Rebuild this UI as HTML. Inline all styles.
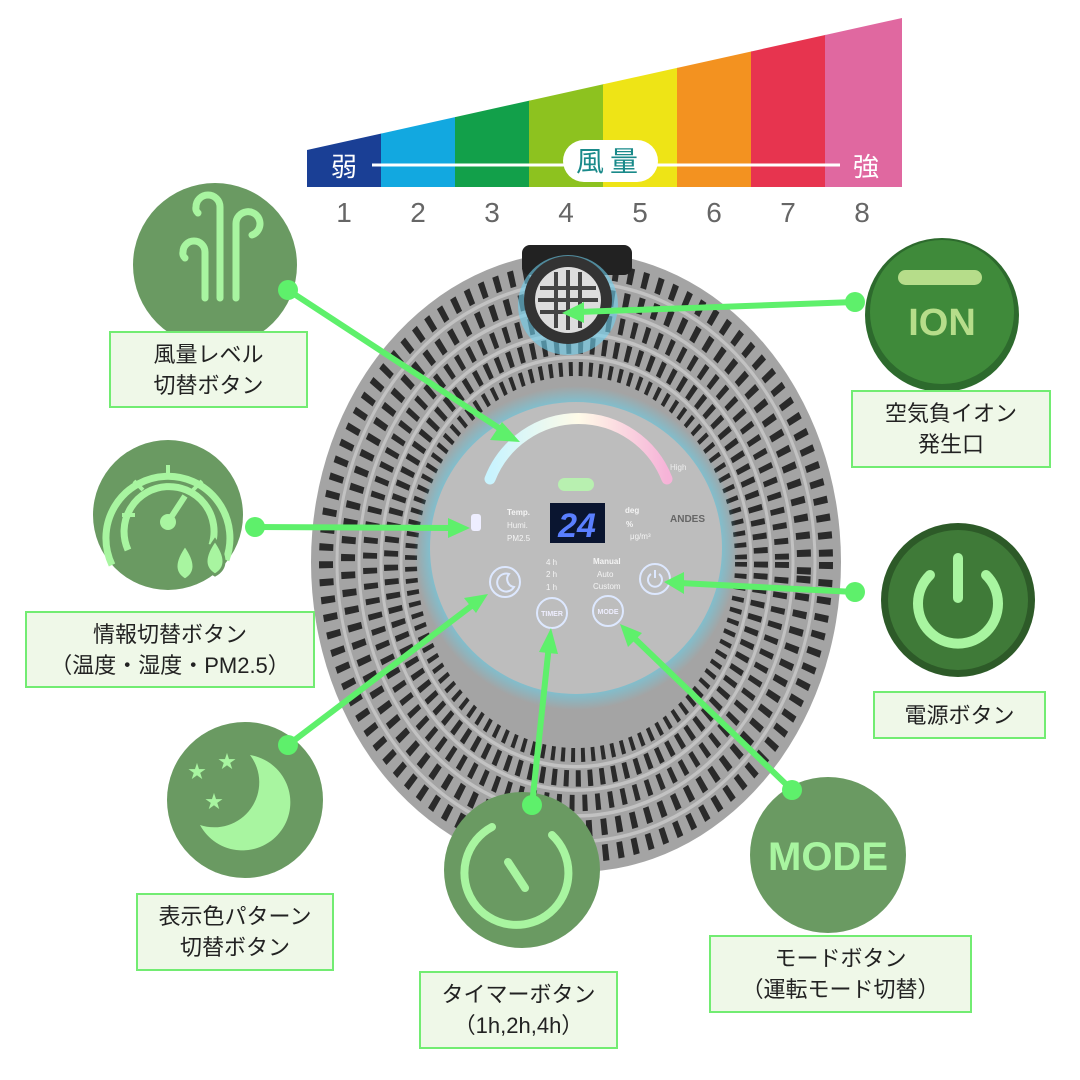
<!DOCTYPE html>
<html><head><meta charset="utf-8"><style>
html,body{margin:0;padding:0;background:#fff;}
body{width:1080px;height:1080px;position:relative;overflow:hidden;font-family:"Liberation Sans","Noto Sans CJK JP",sans-serif;}
.box{position:absolute;background:#eff8e8;border:2px solid #72ec72;color:#222;font-size:22px;line-height:31px;text-align:center;box-sizing:border-box;display:flex;flex-direction:column;justify-content:center;}
</style></head><body>
<svg width="1080" height="1080" viewBox="0 0 1080 1080" style="position:absolute;left:0;top:0">
<defs>
<radialGradient id="glow" cx="0.5" cy="0.5" r="0.5">
<stop offset="0.8" stop-color="#5fd8f5" stop-opacity="1"/>
<stop offset="1" stop-color="#5fd8f5" stop-opacity="0"/>
</radialGradient>
<linearGradient id="arcg" x1="0" x2="1"><stop offset="0" stop-color="#c8f4ff"/><stop offset="0.5" stop-color="#fffbe8"/><stop offset="1" stop-color="#f6b3d8"/></linearGradient>
<clipPath id="bar"><polygon points="307,150 902,18 902,187 307,187"/></clipPath>
</defs>
<g clip-path="url(#bar)">
<rect x="307" y="0" width="75" height="190" fill="#1a3f95"/>
<rect x="381" y="0" width="75" height="190" fill="#12a8e0"/>
<rect x="455" y="0" width="75" height="190" fill="#12a04a"/>
<rect x="529" y="0" width="75" height="190" fill="#8dc21f"/>
<rect x="603" y="0" width="75" height="190" fill="#eee416"/>
<rect x="677" y="0" width="75" height="190" fill="#f39220"/>
<rect x="751" y="0" width="75" height="190" fill="#e7344f"/>
<rect x="825" y="0" width="80" height="190" fill="#e068a0"/>
</g>
<line x1="372" y1="165" x2="840" y2="165" stroke="#fff" stroke-width="3"/>
<rect x="563" y="140" width="95" height="42" rx="21" fill="#fff"/>
<text x="610" y="171" font-size="28" fill="#1a8a8a" text-anchor="middle" letter-spacing="6" font-family="Liberation Sans,Noto Sans CJK JP,sans-serif">風量</text>
<text x="344" y="176" font-size="26" fill="#fff" text-anchor="middle" font-family="Liberation Sans,Noto Sans CJK JP,sans-serif">弱</text>
<text x="866" y="176" font-size="26" fill="#fff" text-anchor="middle" font-family="Liberation Sans,Noto Sans CJK JP,sans-serif">強</text>
<g font-size="28" fill="#666" text-anchor="middle">
<text x="344" y="222">1</text><text x="418" y="222">2</text><text x="492" y="222">3</text><text x="566" y="222">4</text><text x="640" y="222">5</text><text x="714" y="222">6</text><text x="788" y="222">7</text><text x="862" y="222">8</text>
</g>
<g transform="translate(576,562) scale(1,1.17)">
<circle r="265" fill="#a4a4a4"/>
<g fill="none" stroke="#2a2a2a">
<circle r="250" stroke-width="14" stroke-dasharray="6 9"/>
<circle r="228" stroke-width="14" stroke-dasharray="6 9" transform="rotate(3)"/>
<circle r="206" stroke-width="14" stroke-dasharray="5 8"/>
<circle r="185" stroke-width="14" stroke-dasharray="5 7" transform="rotate(3)"/>
<circle r="165" stroke-width="12" stroke-dasharray="4 6"/>
</g>
<g fill="none" stroke="#e0e0e0" stroke-opacity="0.5">
<circle r="239" stroke-width="3"/><circle r="217" stroke-width="3"/><circle r="195" stroke-width="3"/><circle r="175" stroke-width="3"/>
</g>
</g>
<circle cx="576" cy="548" r="162" fill="url(#glow)"/>
<circle cx="576" cy="548" r="146" fill="#bdbdbd"/>
<rect x="522" y="245" width="110" height="30" rx="8" fill="#222"/>
<circle cx="568" cy="305" r="50" fill="#6fd0ee" opacity="0.6"/>
<circle cx="568" cy="300" r="44" fill="#333"/>
<circle cx="568" cy="300" r="33" fill="#ddd"/>
<g stroke="#444" stroke-width="4">
<line x1="540" y1="288" x2="596" y2="288"/><line x1="538" y1="300" x2="598" y2="300"/><line x1="540" y1="312" x2="596" y2="312"/>
<line x1="556" y1="272" x2="556" y2="328"/><line x1="568" y1="270" x2="568" y2="330"/><line x1="580" y1="272" x2="580" y2="328"/>
</g>
<path d="M490,479 A95,95 0 0 1 667,479" fill="none" stroke="url(#arcg)" stroke-width="11" stroke-linecap="round"/>
<rect x="558" y="478" width="36" height="13" rx="6.5" fill="#b8f0b0"/>
<text x="670" y="470" font-size="8" fill="#eee">High</text>
<rect x="550" y="503" width="55" height="40" fill="#0a1530"/>
<text x="577" y="537" font-size="34" fill="#5a7fff" text-anchor="middle" font-weight="bold" font-style="italic">24</text>
<rect x="471" y="514" width="10" height="17" rx="3" fill="#eef"/>
<g font-size="8" fill="#f4f4f4" font-weight="bold"><text x="507" y="515">Temp.</text><text x="507" y="528" font-weight="normal">Humi.</text><text x="507" y="541" font-weight="normal">PM2.5</text>
<text x="625" y="513">deg</text><text x="626" y="527">%</text><text x="630" y="539" font-weight="normal">μg/m³</text>
<text x="593" y="564">Manual</text><text x="597" y="577" font-weight="normal">Auto</text><text x="593" y="589" font-weight="normal">Custom</text>
<text x="546" y="565" font-weight="normal">4 h</text><text x="546" y="577" font-weight="normal">2 h</text><text x="546" y="590" font-weight="normal">1 h</text></g>
<text x="670" y="522" font-size="10" fill="#666" font-weight="bold">ANDES</text>
<g fill="none" stroke="#dde8ff" stroke-width="2">
<circle cx="505" cy="582" r="15"/><circle cx="552" cy="613" r="15"/><circle cx="608" cy="611" r="15"/><circle cx="655" cy="579" r="15"/>
<path d="M509,574 a9,9 0 1 0 5,13 a8,8 0 0 1 -5,-13z"/>
<path d="M651,574 a7,7 0 1 0 8,0 M655,570 v8"/>
</g>
<g font-size="7" fill="#eef" text-anchor="middle" font-weight="bold"><text x="552" y="616">TIMER</text><text x="608" y="614">MODE</text></g>
<!-- wind icon -->
<circle cx="215" cy="265" r="82" fill="#6a9a62"/>
<g fill="none" stroke="#a8f5a0" stroke-width="7" stroke-linecap="round">
<path d="M220,298 V207 a12,12 0 0 0 -24,0 a6,6 0 0 0 2,6"/>
<path d="M236,298 V224 a12,12 0 1 1 16,11"/>
<path d="M205,298 V252 a11,11 0 0 0 -22,0 a6,6 0 0 0 2,6"/>
</g>
<!-- gauge -->
<circle cx="168" cy="515" r="75" fill="#6a9a62"/>
<g fill="none" stroke="#a8f5a0" stroke-width="7"><path d="M112,565 A62,62 0 1 1 226,560"/><path d="M128,550 A45,45 0 1 1 212,545"/></g>
<g stroke="#a8f5a0" stroke-width="4"><line x1="168" y1="465" x2="168" y2="478"/><line x1="122" y1="515" x2="135" y2="515"/><line x1="134" y1="481" x2="143" y2="490"/><line x1="202" y1="481" x2="193" y2="490"/></g>
<line x1="168" y1="522" x2="185" y2="496" stroke="#a8f5a0" stroke-width="6"/>
<circle cx="168" cy="522" r="8" fill="#a8f5a0"/>
<path d="M185,545 q-18,25 0,35 q18,-10 0,-35z M215,540 q-18,25 0,35 q18,-10 0,-35z" fill="#a8f5a0" stroke="#6a9a62" stroke-width="3"/>
<circle cx="245" cy="800" r="78" fill="#6a9a62"/>
<path d="M250,755 a48,48 0 1 1 -50,70 a45,45 0 0 0 50,-70z" fill="#a8f5a0"/>
<g fill="#a8f5a0" font-size="18"><text x="188" y="778">★</text><text x="218" y="768">★</text><text x="205" y="808">★</text></g>
<circle cx="522" cy="870" r="78" fill="#6a9a62"/>
<path d="M552,835 a52,52 0 1 1 -60,-8" fill="none" stroke="#a8f5a0" stroke-width="8" stroke-linecap="round"/>
<line x1="508" y1="862" x2="525" y2="888" stroke="#a8f5a0" stroke-width="8" stroke-linecap="round"/>
<circle cx="828" cy="855" r="78" fill="#6a9a62"/>
<text x="828" y="870" font-size="40" font-weight="bold" fill="#a8f5a0" text-anchor="middle">MODE</text>
<circle cx="942" cy="315" r="77" fill="#2d6a2d"/>
<circle cx="942" cy="312" r="72" fill="#3f8a3a"/>
<rect x="898" y="270" width="84" height="15" rx="7.5" fill="#b6dd8a"/>
<text x="942" y="335" font-size="38" font-weight="bold" fill="#b6dd8a" text-anchor="middle">ION</text>
<circle cx="958" cy="600" r="77" fill="#2d5a28"/>
<circle cx="958" cy="600" r="70" fill="#3f7a38"/>
<path d="M930,575 a40,40 0 1 0 56,0" fill="none" stroke="#a8f5a0" stroke-width="10" stroke-linecap="round"/>
<line x1="958" y1="558" x2="958" y2="598" stroke="#a8f5a0" stroke-width="10" stroke-linecap="round"/>
<g stroke="#5ef06b" stroke-width="6" fill="#5ef06b">
<line x1="288" y1="290" x2="505" y2="432"/><polygon points="520,442 490,440 502,422" stroke="none"/>
<line x1="255" y1="527" x2="452" y2="528"/><polygon points="470,528 448,518 448,538" stroke="none"/>
<line x1="288" y1="745" x2="474" y2="604"/><polygon points="488,594 464,598 476,613" stroke="none"/>
<line x1="532" y1="805" x2="549" y2="645"/><polygon points="551,628 539,652 558,654" stroke="none"/>
<line x1="792" y1="790" x2="630" y2="634"/><polygon points="620,624 628,647 642,633" stroke="none"/>
<line x1="855" y1="592" x2="680" y2="583"/><polygon points="664,582 684,572 684,594" stroke="none"/>
<line x1="855" y1="302" x2="578" y2="312"/><polygon points="562,313 584,302 584,323" stroke="none"/>
<circle cx="288" cy="290" r="10" stroke="none"/><circle cx="255" cy="527" r="10" stroke="none"/><circle cx="288" cy="745" r="10" stroke="none"/><circle cx="532" cy="805" r="10" stroke="none"/><circle cx="792" cy="790" r="10" stroke="none"/><circle cx="855" cy="592" r="10" stroke="none"/><circle cx="855" cy="302" r="10" stroke="none"/>
</g>
</svg>
<div class="box" style="left:109px;top:331px;width:199px;height:77px">風量レベル<br>切替ボタン</div>
<div class="box" style="left:25px;top:611px;width:290px;height:77px">情報切替ボタン<br>（温度・湿度・PM2.5）</div>
<div class="box" style="left:136px;top:893px;width:198px;height:78px">表示色パターン<br>切替ボタン</div>
<div class="box" style="left:419px;top:971px;width:199px;height:78px">タイマーボタン<br>（1h,2h,4h）</div>
<div class="box" style="left:709px;top:935px;width:263px;height:78px">モードボタン<br>（運転モード切替）</div>
<div class="box" style="left:851px;top:390px;width:200px;height:78px">空気負イオン<br>発生口</div>
<div class="box" style="left:873px;top:691px;width:173px;height:48px">電源ボタン</div>
</body></html>
